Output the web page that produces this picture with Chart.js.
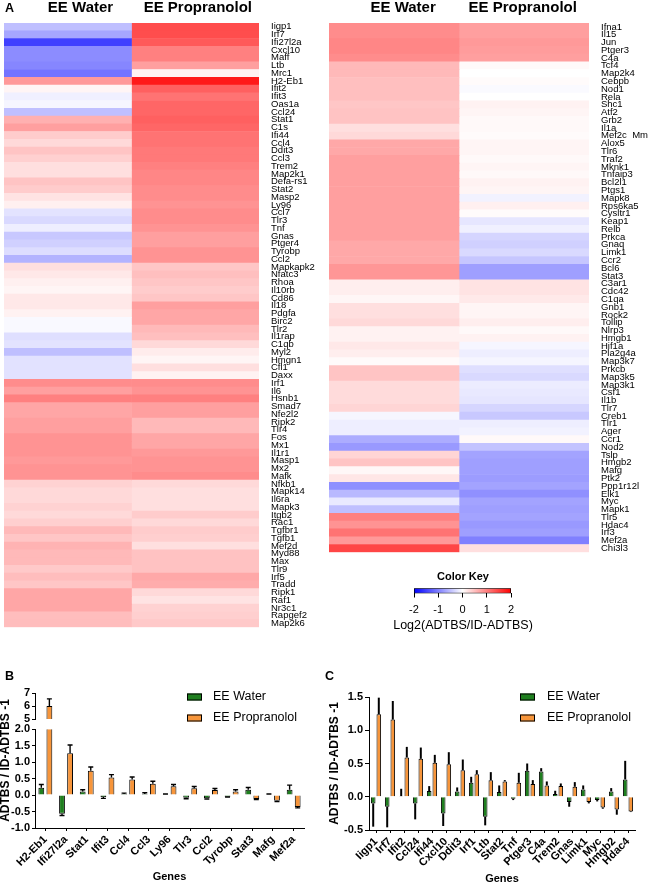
<!DOCTYPE html>
<html lang="en">
<head>
<meta charset="utf-8">
<title>Heatmaps and bar charts</title>
<script src="https://cdn.jsdelivr.net/npm/chart.js@4/dist/chart.umd.min.js"></script>
<style>
  html, body { margin:0; padding:0; background:#fff; }
  body { width:649px; height:886px; position:relative; overflow:hidden; font-family:"Liberation Sans", Arial, sans-serif; color:#000; }
  canvas { position:absolute; }
  .panel { position:absolute; font-weight:bold; font-size:12.5px; line-height:1; }
</style>
</head>
<body>
<canvas id="heatLeft" width="320" height="645" style="left:0;top:0"></canvas>
<canvas id="heatRight" width="329" height="570" style="left:320px;top:0"></canvas>
<canvas id="colorKey" width="182" height="65" style="left:372px;top:570px"></canvas>
<canvas id="barB" width="320" height="236" style="left:0;top:650px"></canvas>
<canvas id="barC" width="329" height="236" style="left:320px;top:650px"></canvas>
<div class="panel" style="left:5px;top:2px;">A</div>
<div class="panel" style="left:5px;top:670px;">B</div>
<div class="panel" style="left:325px;top:670px;">C</div>
<script>
// ---------------- DATA ----------------
const heatColumns = ['EE Water', 'EE Propranolol'];

const leftGenes = ['Iigp1','Irf7','Ifi27l2a','Cxcl10','Maff','Ltb','Mrc1','H2-Eb1','Ifit2','Ifit3',
  'Oas1a','Ccl24','Stat1','C1s','Ifi44','Ccl4','Ddit3','Ccl3','Trem2','Map2k1',
  'Defa-rs1','Stat2','Masp2','Ly96','Ccl7','Tlr3','Tnf','Gnas','Ptger4','Tyrobp',
  'Ccl2','Mapkapk2','Nfatc3','Rhoa','Il10rb','Cd86','Il18','Pdgfa','Birc2','Tlr2',
  'Il1rap','C1qb','Myl2','Hmgn1','Cfl1','Daxx','Irf1','Il6','Hsnb1','Smad7',
  'Nfe2l2','Ripk2','Tlr4','Fos','Mx1','Il1r1','Masp1','Mx2','Mafk','Nfkb1',
  'Mapk14','Il6ra','Mapk3','Itgb2','Rac1','Tgfbr1','Tgfb1','Mef2d','Myd88','Max',
  'Tlr9','Irf5','Tradd','Ripk1','Raf1','Nr3c1','Rapgef2','Map2k6'];
const leftWater = [-0.5,-0.7,-1.5,-0.9,-0.9,-0.95,-1.1,0.8,0.08,-0.12,
  -0.08,-0.5,0.62,0.75,0.4,0.3,0.46,0.37,0.25,0.25,
  0.46,0.4,0.22,0.12,-0.22,-0.3,-0.13,-0.43,-0.37,-0.27,
  -0.6,0.25,0.18,0.12,0.08,0.18,0.18,0.1,-0.05,-0.05,
  -0.25,-0.22,-0.5,-0.23,-0.23,-0.23,0.9,0.75,1.0,0.7,
  0.7,0.75,0.75,0.85,0.85,0.85,0.8,0.85,0.85,0.35,
  0.3,0.3,0.35,0.3,0.38,0.55,0.45,0.6,0.55,0.55,
  0.42,0.52,0.45,0.7,0.7,0.7,0.52,0.52];
const leftProp = [1.4,1.4,1.3,1.0,1.0,0.75,0.1,1.8,1.25,1.1,
  1.2,1.2,1.25,1.2,1.1,1.1,1.05,1.05,1.0,0.95,
  0.95,0.9,0.9,0.85,0.9,0.9,0.85,0.75,0.75,0.85,
  0.85,0.45,0.5,0.45,0.4,0.45,0.75,0.7,0.7,0.55,
  0.5,0.3,0.15,0.08,0.25,0.1,0.9,0.85,1.0,0.75,
  0.75,0.55,0.55,0.7,0.7,0.8,0.85,0.85,0.9,0.3,
  0.25,0.25,0.25,0.4,0.3,0.4,0.38,0.25,0.48,0.48,
  0.48,0.68,0.65,0.3,0.22,0.35,0.38,0.42];

const rightGenes = ['Ifna1','Il15','Jun','Ptger3','C4a','Tcf4','Map2k4','Cebpb','Nod1','Rela',
  'Shc1','Atf2','Grb2','Il1a','Mef2c  Mm','Alox5','Tlr6','Traf2','Mknk1','Tnfaip3',
  'Bcl2l1','Ptgs1','Mapk8','Rps6ka5','Cysltr1','Keap1','Relb','Prkca','Gnaq','Limk1',
  'Ccr2','Bcl6','Stat3','C3ar1','Cdc42','C1qa','Gnb1','Rock2','Tollip','Nlrp3',
  'Hmgb1','Hif1a','Pla2g4a','Map3k7','Prkcb','Map3k5','Map3k1','Csf1','Il1b','Tlr7',
  'Creb1','Tlr1','Ager','Ccr1','Nod2','Tslp','Hmgb2','Mafg','Ptk2','Ppp1r12l',
  'Elk1','Myc','Mapk1','Tlr5','Hdac4','Irf3','Mef2a','Chi3l3'];
const rightWater = [0.9,0.9,0.95,0.95,0.9,0.55,0.55,0.5,0.5,0.5,
  0.45,0.47,0.47,0.25,0.3,0.68,0.68,0.75,0.75,0.75,
  0.75,0.75,0.75,0.75,0.75,0.75,0.75,0.75,0.68,0.68,
  0.68,0.82,0.82,0.13,0.13,0.07,0.25,0.25,0.3,0.1,
  0.1,0.18,0.13,0.04,0.46,0.46,0.28,0.28,0.28,0.33,
  -0.07,-0.13,-0.13,-0.65,-0.8,0.33,0.46,0.06,0.2,-0.88,
  -0.55,-0.17,-0.5,1.0,0.85,1.1,0.8,1.45];
const rightProp = [0.75,0.75,0.8,0.78,0.75,0.05,0.0,0.03,-0.04,0.0,
  0.1,0.08,0.05,0.05,0.03,0.08,0.08,0.05,0.08,0.05,
  0.1,0.08,-0.1,0.12,0.03,-0.2,-0.12,-0.33,-0.37,-0.3,
  -0.45,-0.75,-0.75,0.22,0.22,0.17,0.08,0.08,0.13,0.05,
  0.1,-0.07,-0.13,-0.08,-0.25,-0.3,-0.15,-0.17,-0.2,-0.32,
  -0.43,-0.13,-0.1,0.05,-0.47,-0.72,-0.75,-0.75,-0.78,-0.72,
  -0.87,-0.72,-0.75,-0.72,-0.8,-0.75,-1.0,0.25];

const keyRange = [-2, 2];
const keyTicks = [-2, -1, 0, 1, 2];

const seriesNames = ['EE Water', 'EE Propranolol'];
const genesB = ['H2-Eb1','Ifi27l2a','Stat1','Ifit3','Ccl4','Ccl3','Ly96','Tlr3','Ccl2','Tyrobp','Stat3','Mafg','Mef2a'];
const waterB    = [0.22,-0.57,0.11,-0.06,0.03,0.03,0.01,-0.08,-0.1,-0.05,0.16,0.02,0.16];
const waterBErr = [0.1,0.05,0.05,0.04,0.03,0.04,0.02,0.03,0.02,0.01,0.07,0.01,0.14];
const propB     = [6.0,1.27,0.74,0.53,0.47,0.34,0.27,0.21,0.15,0.11,-0.12,-0.17,-0.36];
const propBErr  = [0.55,0.25,0.11,0.09,0.08,0.08,0.05,0.05,0.05,0.05,0.02,0.03,0.03];

const genesC = ['Iigp1','Irf7','Ifit2','Ccl24','Ifi44','Cxcl10','Ddit3','Irf1','Ltb','Stat2',
  'Tnf','Ptger3','C4a','Trem2','Gnas','Limk1','Myc','Hmgb2','Hdac4'];
const waterC    = [-0.1,-0.15,0.01,-0.1,0.085,-0.25,0.08,0.21,-0.3,0.07,-0.03,0.39,0.38,0.04,-0.08,0.11,-0.05,0.08,0.26];
const waterCErr = [0.35,0.31,0.11,0.24,0.075,0.19,0.06,0.09,0.13,0.1,0.02,0.11,0.05,0.05,0.07,0.06,0.02,0.05,0.28];
const propC     = [1.24,1.16,0.59,0.57,0.51,0.49,0.4,0.34,0.25,0.23,0.21,0.19,0.17,0.16,0.15,-0.08,-0.16,-0.19,-0.22];
const propCErr  = [0.25,0.28,0.16,0.17,0.12,0.18,0.16,0.06,0.12,0.02,0.15,0.06,0.06,0.04,0.07,0.02,0.02,0.08,0.01];

const yTitleText = 'ADTBS / ID-ADTBS -1';
const xTitleText = 'Genes';
const keyTitle = 'Color Key';
const keyAxisTitle = 'Log2(ADTBS/ID-ADTBS)';

// ---------------- STYLE ----------------
const FONT = '"Liberation Sans", Arial, sans-serif';
const GREEN = '#1f7f1f';
const ORANGE = '#f7953a';
Chart.defaults.font.family = FONT;
Chart.defaults.color = '#000';
Chart.defaults.animation = false;

function heatColor(v) {
  const t = Math.min(Math.abs(v), 2) / 2;
  const c = Math.round(255 * (1 - t));
  return v >= 0 ? `rgb(255,${c},${c})` : `rgb(${c},${c},255)`;
}

// error bars + per-axis clipping (for the broken axis)
const errorBars = {
  id: 'errorBars',
  beforeDatasetDraw(chart, args, opts) {
    if (!opts || !opts.enabled) return;
    const ys = chart.scales[args.meta.yAxisID];
    const ca = chart.chartArea;
    const ctx = chart.ctx;
    ctx.save();
    ctx.beginPath();
    ctx.rect(ca.left - 2, ys.top, ca.right - ca.left + 4, ys.bottom - ys.top);
    ctx.clip();
  },
  afterDatasetDraw(chart, args, opts) {
    if (!opts || !opts.enabled) return;
    const ds = chart.data.datasets[args.index];
    const ys = chart.scales[args.meta.yAxisID];
    const ctx = chart.ctx;
    if (ds.errors) {
      ctx.strokeStyle = '#000';
      ctx.lineWidth = opts.lineWidth;
      args.meta.data.forEach((el, i) => {
        const v = ds.data[i], e = ds.errors[i];
        if (v == null || e == null) return;
        const end = v >= 0 ? v + e : v - e;
        const y0 = ys.getPixelForValue(v), y1 = ys.getPixelForValue(end);
        ctx.beginPath();
        ctx.moveTo(el.x, y0); ctx.lineTo(el.x, y1);
        if (opts.cap > 0) { ctx.moveTo(el.x - opts.cap / 2, y1); ctx.lineTo(el.x + opts.cap / 2, y1); }
        ctx.stroke();
      });
    }
    ctx.restore();
  }
};

const cornerLegend = {
  id: 'cornerLegend',
  afterDraw(chart, args, opts) {
    if (!opts || !opts.display) return;
    const ctx = chart.ctx;
    const seen = new Set();
    let row = 0;
    chart.data.datasets.forEach(ds => {
      if (seen.has(ds.label)) return;
      seen.add(ds.label);
      const y = opts.y + row * opts.rowGap;
      ctx.save();
      ctx.fillStyle = ds.backgroundColor;
      ctx.fillRect(opts.x, y - opts.boxH / 2, opts.boxW, opts.boxH);
      ctx.strokeStyle = '#000'; ctx.lineWidth = 1;
      ctx.strokeRect(opts.x + 0.5, y - opts.boxH / 2 + 0.5, opts.boxW - 1, opts.boxH - 1);
      ctx.fillStyle = '#000';
      ctx.font = opts.font;
      ctx.textBaseline = 'middle'; ctx.textAlign = 'left';
      ctx.fillText(ds.label, opts.x + opts.boxW + opts.textGap, y);
      ctx.restore();
      row++;
    });
  }
};
Chart.register(errorBars, cornerLegend);

// ---------------- HEATMAPS ----------------
function heatmap(id, genes, water, prop, opt) {
  const slot = genes.map(() => 1);
  return new Chart(document.getElementById(id), {
    type: 'bar',
    data: {
      labels: genes,
      datasets: [
        { label: heatColumns[0], data: slot, backgroundColor: water.map(heatColor) },
        { label: heatColumns[1], data: slot, backgroundColor: prop.map(heatColor) }
      ]
    },
    options: {
      indexAxis: 'y', responsive: false, animation: false, events: [],
      datasets: { bar: { barPercentage: 1, categoryPercentage: 1, borderWidth: 0 } },
      layout: { padding: opt.padding },
      plugins: { legend: { display: false }, tooltip: { enabled: false } },
      scales: {
        x: {
          type: 'linear', position: 'top', stacked: true, min: 0, max: 2,
          grid: { display: false, drawTicks: false }, border: { display: false },
          afterBuildTicks: s => { s.ticks = opt.headerAt.map(v => ({ value: v })); },
          ticks: { callback: (v, i) => heatColumns[i], font: { size: 15, weight: 'bold' }, color: '#000', padding: 6, maxRotation: 0, autoSkip: false },
          afterFit: s => { s.height = 23; }
        },
        y: {
          type: 'category', position: 'right', stacked: true,
          grid: { display: false, drawTicks: false }, border: { display: false },
          ticks: { autoSkip: false, font: { size: 9.5 }, color: '#000', padding: 12 },
          afterFit: s => { s.width = opt.labelWidth; }
        }
      }
    }
  });
}
heatmap('heatLeft', leftGenes, leftWater, leftProp, { padding: { left: 4, top: 0, right: 0, bottom: 9 }, labelWidth: 61, headerAt: [0.6, 1.52] });
heatmap('heatRight', rightGenes, rightWater, rightProp, { padding: { left: 9, top: 0, right: 0, bottom: 11 }, labelWidth: 60, headerAt: [0.57, 1.49] });

// ---------------- COLOR KEY ----------------
const hiddenAxis = (pos, w) => ({
  type: 'linear', position: pos, min: 0, max: 1, display: true,
  grid: { display: false, drawTicks: false }, border: { display: false }, ticks: { display: false },
  afterFit: s => { s.width = w; }
});
new Chart(document.getElementById('colorKey'), {
  type: 'bar',
  data: {
    labels: [keyTitle],
    datasets: [{
      data: [keyRange],
      yAxisID: 'y',
      backgroundColor: c => {
        const ca = c.chart.chartArea;
        if (!ca) return '#fff';
        const g = c.chart.ctx.createLinearGradient(ca.left, 0, ca.right, 0);
        keyTicks.forEach(v => g.addColorStop((v - keyRange[0]) / (keyRange[1] - keyRange[0]), heatColor(v)));
        return g;
      },
      borderColor: '#000', borderWidth: 1, borderSkipped: false,
      barPercentage: 1, categoryPercentage: 1
    }]
  },
  options: {
    indexAxis: 'y', responsive: false, animation: false, events: [],
    layout: { padding: 0 },
    plugins: {
      legend: { display: false }, tooltip: { enabled: false },
      title: { display: true, text: keyTitle, font: { size: 11, weight: 'bold' }, color: '#000', padding: { top: 0, bottom: 5 } },
      subtitle: { display: true, position: 'bottom', text: keyAxisTitle, font: { size: 12.5 }, color: '#000', padding: { top: 0, bottom: 2 } }
    },
    scales: {
      x: {
        type: 'linear', min: keyRange[0], max: keyRange[1],
        afterBuildTicks: s => { s.ticks = keyTicks.map(v => ({ value: v })); },
        grid: { drawOnChartArea: false, tickLength: 4, color: '#000' }, border: { display: false },
        ticks: { font: { size: 11 }, color: '#000', padding: 6 },
        afterFit: s => { s.height = 24.5; }
      },
      y: {
        type: 'category', position: 'left', display: true,
        grid: { display: false, drawTicks: false }, border: { display: false }, ticks: { display: false },
        afterFit: s => { s.width = 42; }
      },
      yRight: hiddenAxis('right', 43)
    }
  }
});

// ---------------- BAR CHARTS ----------------
const tickFont = { size: 11, weight: 'bold' };
const axisGrid = { drawOnChartArea: false, tickLength: 3, color: '#000' };
const axisBorder = { color: '#000', width: 1 };
function xAxis(h, pb) {
  return {
    type: 'category', offset: true,
    grid: { drawOnChartArea: false, offset: false, tickLength: 3, color: '#000' }, border: axisBorder,
    ticks: { autoSkip: false, maxRotation: 45, minRotation: 45, font: tickFont, color: '#000', padding: 2 },
    title: { display: true, text: xTitleText, font: { size: 11, weight: 'bold' }, color: '#000', padding: { top: 0, bottom: pb } },
    afterFit: s => { s.height = h; }
  };
}
function barSet(label, data, errors, color, stack, axis) {
  return { label, data, errors, backgroundColor: color, borderColor: '#000', borderWidth: 1, stack, yAxisID: axis };
}

new Chart(document.getElementById('barB'), {
  type: 'bar',
  data: {
    labels: genesB,
    datasets: [
      barSet(seriesNames[0], waterB, waterBErr, GREEN, 'water', 'y'),
      barSet(seriesNames[1], propB, propBErr, ORANGE, 'prop', 'y'),
      barSet(seriesNames[1], propB, propBErr, ORANGE, 'prop', 'yUpper')
    ]
  },
  options: {
    responsive: false, animation: false, events: [],
    datasets: { bar: { categoryPercentage: 0.78, barPercentage: 0.72 } },
    layout: { padding: { left: 0, top: 43, right: 16, bottom: 0 } },
    plugins: {
      legend: { display: false }, tooltip: { enabled: false },
      errorBars: { enabled: true, lineWidth: 1.4, cap: 5 },
      cornerLegend: { display: true, x: 187, y: 47, rowGap: 21, boxW: 15, boxH: 7, textGap: 11, font: '12.5px ' + FONT }
    },
    scales: {
      x: xAxis(58, 2),
      yTitle: {
        type: 'linear', position: 'left', weight: 10, min: 0, max: 1,
        grid: { display: false }, border: { display: false }, ticks: { display: false },
        title: { display: true, text: yTitleText, font: { size: 12, weight: 'bold', lineHeight: 1 }, color: '#000', padding: 0 },
        afterFit: s => { s.width = 11; }
      },
      y: {
        type: 'linear', position: 'left', stack: 'v', stackWeight: 9.84, min: -1, max: 2,
        ticks: { stepSize: 0.5, autoSkip: false, callback: v => v.toFixed(1), font: tickFont, color: '#000', padding: 2 },
        grid: axisGrid, border: axisBorder,
        afterFit: s => { s.width = 24; }
      },
      yGap: {
        type: 'linear', position: 'left', stack: 'v', stackWeight: 1, min: 0, max: 1,
        grid: { display: false }, border: { display: false }, ticks: { display: false },
        afterFit: s => { s.width = 24; }
      },
      yUpper: {
        type: 'linear', position: 'left', stack: 'v', stackWeight: 2.6, min: 5, max: 7,
        ticks: { stepSize: 1, autoSkip: false, font: tickFont, color: '#000', padding: 2 },
        grid: axisGrid, border: axisBorder,
        afterFit: s => { s.width = 24; }
      }
    }
  }
});

new Chart(document.getElementById('barC'), {
  type: 'bar',
  data: {
    labels: genesC,
    datasets: [
      barSet(seriesNames[0], waterC, waterCErr, GREEN, 'water', 'y'),
      barSet(seriesNames[1], propC, propCErr, ORANGE, 'prop', 'y')
    ]
  },
  options: {
    responsive: false, animation: false, events: [],
    datasets: { bar: { categoryPercentage: 0.8, barPercentage: 0.82 } },
    layout: { padding: { left: 0, top: 47, right: 14, bottom: 0 } },
    plugins: {
      legend: { display: false }, tooltip: { enabled: false },
      errorBars: { enabled: true, lineWidth: 2, cap: 0 },
      cornerLegend: { display: true, x: 200, y: 47, rowGap: 21, boxW: 15, boxH: 7, textGap: 12, font: '12.5px ' + FONT }
    },
    scales: {
      x: xAxis(56, 0),
      y: {
        type: 'linear', position: 'left', min: -0.5, max: 1.5,
        ticks: { stepSize: 0.5, callback: v => v.toFixed(1), font: tickFont, color: '#000', padding: 2 },
        grid: { drawOnChartArea: false, tickLength: 4, color: '#000' }, border: axisBorder,
        title: { display: true, text: yTitleText, font: { size: 12, weight: 'bold', lineHeight: 1 }, color: '#000', padding: { top: 9, bottom: 0 } },
        afterFit: s => { s.width = 49; }
      }
    }
  }
});
</script>
</body>
</html>
